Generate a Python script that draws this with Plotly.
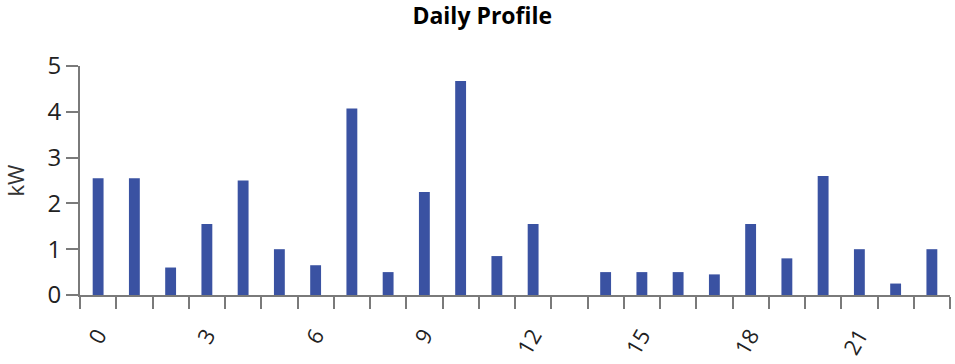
import plotly.graph_objects as go

hours = [str(h) for h in range(24)]
kw = [2.55, 2.55, 0.6, 1.55, 2.5, 1.0, 0.65, 4.07, 0.5, 2.25, 4.67, 0.85,
      1.55, 0.0, 0.5, 0.5, 0.5, 0.45, 1.55, 0.8, 2.6, 1.0, 0.25, 1.0]
tick_text = [h if int(h) % 3 == 0 else "" for h in hours]
y_ticks = [0, 1, 2, 3, 4, 5]

axis_col = "#7a7a7a"
font_fam = "Open Sans, Noto Sans, sans-serif"

fig = go.Figure(go.Bar(
    x=hours, y=kw, width=0.3,
    marker=dict(color="#3A52A2", line=dict(width=0)),
))

fig.update_layout(
    width=955, height=364,
    margin=dict(l=80, r=5, t=66, b=69),
    plot_bgcolor="white", paper_bgcolor="white",
    font=dict(family=font_fam, color="#222222"),
    showlegend=False,
    title=dict(text="<b>Daily Profile</b>", font=dict(size=23, color="#000000", family=font_fam),
               xref="container", x=0.505, xanchor="center",
               yref="container", y=0.955, yanchor="middle"),
    bargap=0.7,
)

fig.update_xaxes(
    type="category", categoryorder="array", categoryarray=hours,
    tickmode="array", tickvals=hours, ticktext=tick_text,
    tickson="boundaries", ticks="outside", ticklen=12, tickwidth=2, tickcolor=axis_col,
    showline=True, linecolor=axis_col, linewidth=2,
    showgrid=False, zeroline=False, automargin=False,
    tickangle=-60, tickfont=dict(size=22, color="#222222"),
    ticklabelstandoff=17,
)

fig.update_yaxes(
    range=[0, 5], tickmode="array", tickvals=y_ticks,
    ticks="outside", ticklen=12, tickwidth=2, tickcolor=axis_col,
    showline=True, linecolor=axis_col, linewidth=2,
    showgrid=False, zeroline=False, automargin=False,
    tickfont=dict(size=24, color="#222222"),
    title=dict(text="kW", font=dict(size=22, color="#333333"), standoff=22),
)

fig.write_html("out.html", config={"displayModeBar": False},
               post_script="document.body.style.margin='0';")
